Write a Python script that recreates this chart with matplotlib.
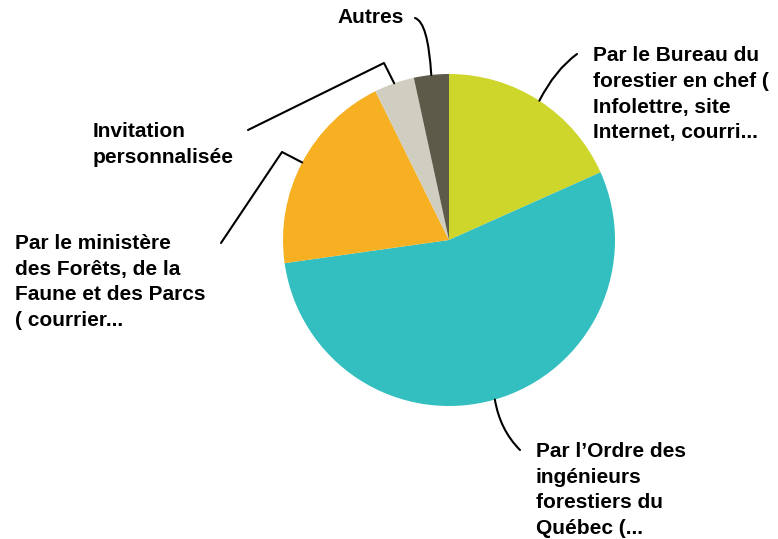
import numpy as np
import matplotlib.pyplot as plt
from matplotlib.path import Path
from matplotlib.patches import PathPatch

# data (share of respondents, clockwise from 12 o'clock)
labels = [
    "Par le Bureau du\nforestier en chef (\nInfolettre, site\nInternet, courri...",
    "Par l\u2019Ordre des\ningénieurs\nforestiers du\nQuébec (...",
    "Par le ministère\ndes Forêts, de la\nFaune et des Parcs\n( courrier...",
    "Invitation\npersonnalisée",
    "Autres",
]
values = [18.3, 54.4, 19.9, 3.9, 3.4]
colors = ["#CED52B", "#33BEC0", "#F6B021", "#D0CEC0", "#5E5A4A"]

W, H = 778, 539
cx, cy, R = 449, H - 240, 166

fig = plt.figure(figsize=(W / 100, H / 100), dpi=100)
ax = fig.add_axes([0, 0, 1, 1])

wedges, _ = ax.pie(values, colors=colors, startangle=90, counterclock=False,
                   center=(cx, cy), radius=R, frame=True,
                   wedgeprops=dict(linewidth=0))
ax.set_xlim(0, W)
ax.set_ylim(0, H)
ax.set_aspect("equal")
ax.axis("off")

# label anchor (text top-left, pixel coords), leader end, leader bend
text_pos = [(593, 46), (536, 442), (15, 234), (93, 122), (337, 8)]
line_end = [(577, 54), (520, 450), (221, 243), (248, 130), (415, 18)]
bends = [(555, 70), (500, 430), (282, 152), (384, 63), (428, 22)]
kinked = [False, False, True, True, False]

for w, lab, tp, le, bd, kk in zip(wedges, labels, text_pos, line_end, bends, kinked):
    mid = np.deg2rad((w.theta1 + w.theta2) / 2)
    ex, ey = cx + R * np.cos(mid), cy + R * np.sin(mid)
    p0 = (le[0], H - le[1])
    p1 = (bd[0], H - bd[1])
    if kk:
        path = Path([p0, p1, (ex, ey)], [Path.MOVETO, Path.LINETO, Path.LINETO])
    else:
        path = Path([p0, p1, (ex, ey)], [Path.MOVETO, Path.CURVE3, Path.CURVE3])
    ax.add_patch(PathPatch(path, fill=False, lw=1.5, color="black",
                           capstyle="round", joinstyle="round"))
    ax.text(tp[0], H - tp[1], lab, ha="left", va="top", fontsize=15,
            fontweight="bold", family="Liberation Sans", color="black",
            linespacing=1.45)

fig.savefig("out.png", dpi=100)
